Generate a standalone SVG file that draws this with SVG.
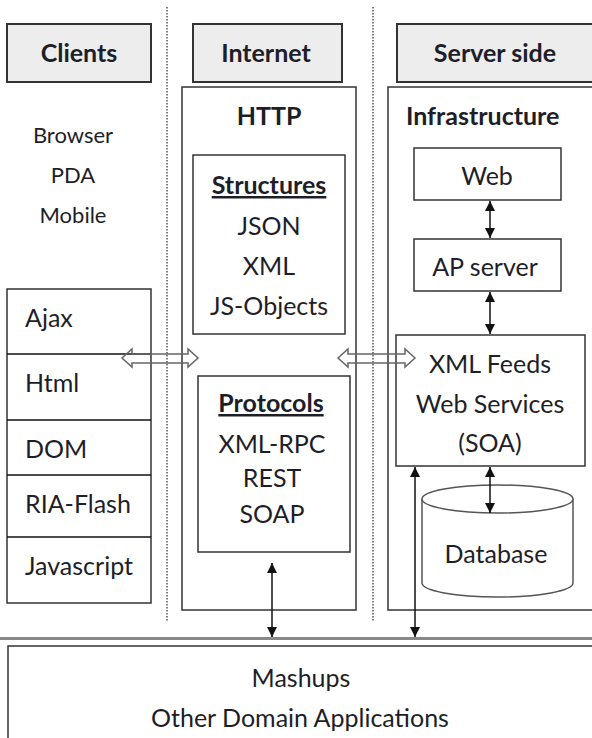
<svg xmlns="http://www.w3.org/2000/svg" width="592" height="738" viewBox="0 0 592 738">
<style>
text{font-family:Lato,"Open Sans","Liberation Sans",sans-serif;font-size:25px;fill:#1e1e28}
.b{font-weight:bold}
.c{text-anchor:middle}
.u{text-decoration:underline}
.s{font-size:22px}
.box{fill:#fff;stroke:#333;stroke-width:1.5}
.hdr{fill:#ededed;stroke:#333;stroke-width:2}
.dot{stroke:#555;stroke-width:1.5;stroke-dasharray:1.5 1.5;fill:none}
.ln{stroke:#111;stroke-width:1.5;fill:none}
.hol{fill:none;stroke:#666;stroke-width:1.5}
</style>
<defs>
<marker id="ah" viewBox="0 0 10 10" refX="10" refY="5" markerWidth="10" markerHeight="10" markerUnits="userSpaceOnUse" orient="auto-start-reverse">
<path d="M0,0 L10,5 L0,10 z" fill="#111"/>
</marker>
</defs>
<g id="separators">
<line class="dot" x1="167" y1="7" x2="167" y2="622"/>
<line class="dot" x1="373" y1="7" x2="373" y2="622"/>
<line x1="0" y1="638.5" x2="592" y2="638.5" stroke="#888" stroke-width="3"/>
</g>
<g id="clients-header"><rect class="hdr" x="7" y="24" width="144" height="58"/><text class="b c" x="79" y="62">Clients</text></g>
<g id="internet-header"><rect class="hdr" x="193" y="24" width="149" height="58"/><text class="b c" x="266" y="62">Internet</text></g>
<g id="server-header"><rect class="hdr" x="397" y="24" width="220" height="58"/><text class="b c" x="495" y="62">Server side</text></g>
<g id="client-devices">
<text class="c s" x="73" y="143">Browser</text>
<text class="c s" x="73" y="183">PDA</text>
<text class="c s" x="73" y="223">Mobile</text>
</g>
<g id="client-stack">
<rect class="box" x="7" y="289" width="144" height="314"/>
<line class="ln" x1="7" y1="354" x2="151" y2="354"/>
<line class="ln" x1="7" y1="420" x2="151" y2="420"/>
<line class="ln" x1="7" y1="475" x2="151" y2="475"/>
<line class="ln" x1="7" y1="537" x2="151" y2="537"/>
<text x="25" y="327">Ajax</text>
<text x="25" y="392">Html</text>
<text x="25" y="458">DOM</text>
<text x="25" y="513">RIA-Flash</text>
<text x="25" y="575">Javascript</text>
</g>
<g id="http">
<rect class="box" x="182" y="87" width="174" height="523"/>
<text class="b c" x="269" y="125">HTTP</text>
</g>
<g id="structures">
<rect class="box" x="193" y="155" width="152" height="179"/>
<text class="b c u" x="269" y="194">Structures</text>
<text class="c" x="269" y="235">JSON</text>
<text class="c" x="269" y="275">XML</text>
<text class="c" x="269" y="315">JS-Objects</text>
</g>
<g id="protocols">
<rect class="box" x="198" y="376" width="152" height="176"/>
<text class="b c u" x="271" y="412">Protocols</text>
<text class="c" x="272" y="453">XML-RPC</text>
<text class="c" x="272" y="487">REST</text>
<text class="c" x="272" y="523">SOAP</text>
</g>
<g id="infrastructure">
<rect class="box" x="388" y="87" width="230" height="523"/>
<text class="b" x="406" y="125">Infrastructure</text>
</g>
<g id="web"><rect class="box" x="414" y="148" width="147" height="52"/><text class="c" x="487" y="185">Web</text></g>
<g id="ap-server"><rect class="box" x="414" y="239" width="147" height="52"/><text class="c" x="485" y="276">AP server</text></g>
<g id="xml-feeds">
<rect class="box" x="396" y="335" width="189" height="131"/>
<text class="c" x="490" y="373">XML Feeds</text>
<text class="c" x="490" y="413">Web Services</text>
<text class="c" x="490" y="452">(SOA)</text>
</g>
<g id="database">
<path d="M422,499 L422,583 A75.5,14 0 0 0 573,583 L573,499" fill="#fff" stroke="#555" stroke-width="1.5"/>
<ellipse cx="497.5" cy="499" rx="75.5" ry="14" fill="#fff" stroke="#555" stroke-width="1.5"/>
<text class="c" x="496" y="563">Database</text>
</g>
<g id="mashups">
<rect class="box" x="8" y="646" width="620" height="110"/>
<text class="c" x="301" y="687">Mashups</text>
<text class="c" x="300" y="727">Other Domain Applications</text>
</g>
<g id="connectors">
<path class="hol" d="M122,358 L132,349 L132,354 L188,354 L188,349 L198,358 L188,367 L188,363 L132,363 L132,367 z"/>
<path class="hol" d="M338,358 L348,349 L348,354 L405,354 L405,349 L415,358 L405,367 L405,363 L348,363 L348,367 z"/>
<line class="ln" x1="490" y1="201" x2="490" y2="238" marker-start="url(#ah)" marker-end="url(#ah)"/>
<line class="ln" x1="490" y1="292" x2="490" y2="334" marker-start="url(#ah)" marker-end="url(#ah)"/>
<line class="ln" x1="490" y1="467" x2="490" y2="513" marker-start="url(#ah)" marker-end="url(#ah)"/>
<line class="ln" x1="272" y1="563" x2="272" y2="637" marker-start="url(#ah)" marker-end="url(#ah)"/>
<line class="ln" x1="415" y1="637" x2="415" y2="467" marker-start="url(#ah)" marker-end="url(#ah)"/>
</g>
</svg>
